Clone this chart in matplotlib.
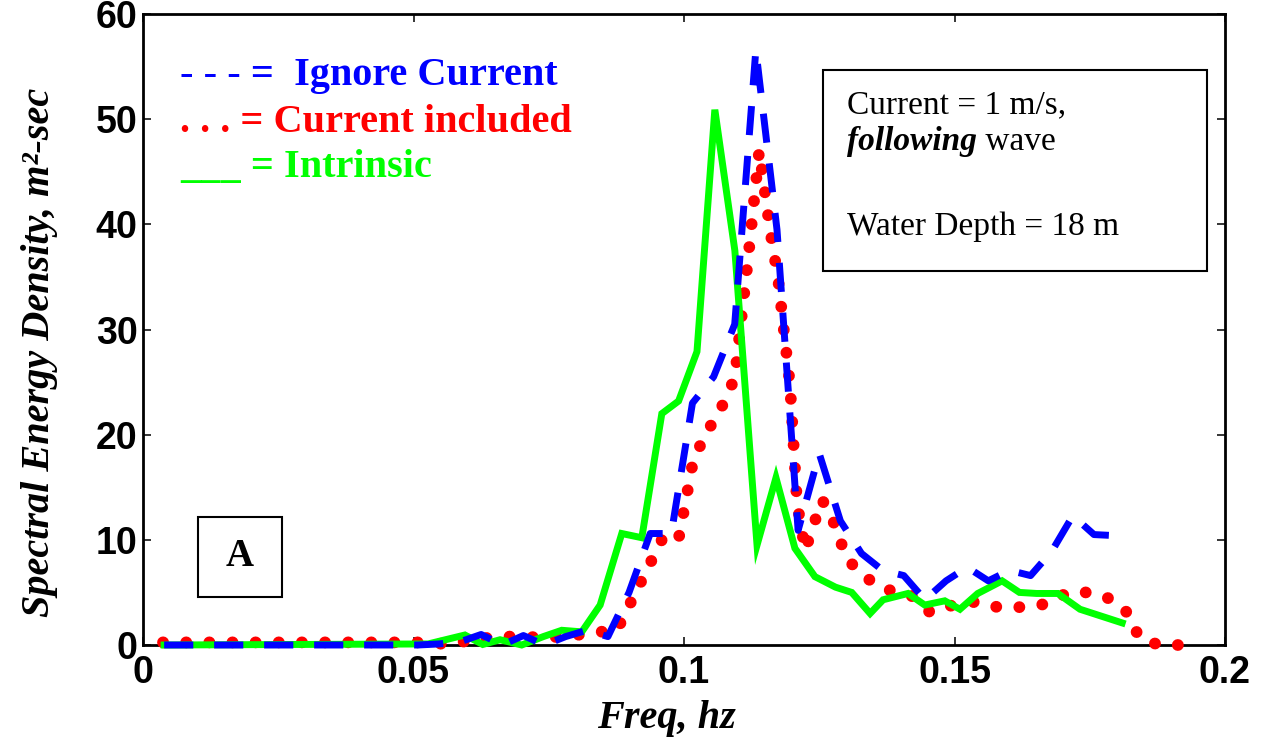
import matplotlib
matplotlib.use('Agg')
import matplotlib.pyplot as plt
from matplotlib.patches import Rectangle

# ignore current: sampled on k/256 hz grid
blue_f = [k / 256 for k in range(1, 47)]
blue_v = [0, 0, 0, 0, 0, 0, 0, 0, 0, 0, 0, 0, 0,
          0.1, 0.3, 1.0, 0.0, 0.9, 0.0, 0.8, 1.4, 0.8, 5.0, 10.6, 10.6,
          23.0, 25.5, 30.5, 56.6, 39.5, 10.9, 18.2, 11.8, 8.7, 7.1, 6.6,
          4.3, 6.1, 7.4, 6.1, 7.1, 6.6, 8.9, 12.3, 10.5, 10.4]

# current included
red_f = [0.0037, 0.0512, 0.0558, 0.0604, 0.0651, 0.0697, 0.0743, 0.0789,
         0.0835, 0.0876, 0.0959, 0.0989, 0.1018, 0.1052, 0.1078, 0.1094,
         0.1118, 0.1139, 0.1159, 0.1174, 0.1196, 0.1209, 0.1224, 0.1255,
         0.1270, 0.1301, 0.1333, 0.1372, 0.1418, 0.1455, 0.1497, 0.1538,
         0.1580, 0.1627, 0.1669, 0.1710, 0.1752, 0.1793, 0.1823, 0.1841,
         0.1878, 0.1926]
red_v = [0.25, 0.25, 0.1, 0.4, 0.8, 0.8, 0.7, 0.85,
         1.2, 1.4, 10.0, 9.8, 17.8, 21.1, 23.4, 25.5,
         36.5, 47.0, 39.5, 34.8, 24.7, 13.5, 9.0, 13.8,
         12.6, 8.2, 6.5, 5.3, 4.8, 3.1, 3.8, 4.1,
         3.6, 3.6, 3.9, 5.0, 5.0, 4.3, 2.9, 0.7,
         0.0, 0.0]

# intrinsic
green_f = [0.0039, 0.0527, 0.0595, 0.0628, 0.0660, 0.0700, 0.0740, 0.0774,
           0.0811, 0.0845, 0.0885, 0.0922, 0.0959, 0.0990, 0.1024, 0.1057,
           0.1094, 0.1135, 0.1170, 0.1205, 0.1242, 0.1280, 0.1310, 0.1344,
           0.1368, 0.1414, 0.1445, 0.1482, 0.1510, 0.1543, 0.1588, 0.1620,
           0.1652, 0.1691, 0.1732, 0.1810]
green_v = [0.0, 0.1, 0.95, 0.05, 0.5, 0.0, 0.8, 1.4,
           1.25, 3.8, 10.6, 10.2, 22.0, 23.2, 27.9, 50.9,
           37.5, 9.5, 15.9, 9.2, 6.5, 5.5, 5.0, 3.0,
           4.3, 4.9, 3.8, 4.2, 3.4, 4.9, 6.1, 5.0,
           4.9, 4.9, 3.4, 2.1]

xticks = [0, 0.05, 0.1, 0.15, 0.2]
xtick_labels = ['0', '0.05', '0.1', '0.15', '0.2']
yticks = [0, 10, 20, 30, 40, 50, 60]

W, H = 1268, 747
fig = plt.figure(figsize=(W / 100, H / 100), dpi=100)
ax = fig.add_axes([143 / W, 1 - 645 / H, (1225 - 143) / W, (645 - 14) / H])

serif = 'Liberation Serif'
sans = 'Liberation Sans'

ax.plot(red_f, red_v, color=(1, 0, 0), lw=8.5, linestyle=(0, (0.01, 1.95)),
        dash_capstyle='round', clip_on=False, zorder=3)
ax.plot(green_f, green_v, color=(0, 1, 0), lw=5, solid_joinstyle='miter',
        clip_on=False, zorder=4)
ax.plot(blue_f, blue_v, color=(0, 0, 1), lw=5, linestyle=(0, (4.2, 3)),
        dash_capstyle='butt', clip_on=False, zorder=5)

ax.set_xlim(0, 0.2)
ax.set_ylim(0, 60)
ax.set_xticks(xticks)
ax.set_xticklabels(xtick_labels)
ax.set_yticks(yticks)
ax.tick_params(direction='in', length=6, width=1.1, top=True, right=True,
               labelsize=27)
ax.tick_params(axis='x', pad=7)
ax.tick_params(axis='y', pad=4)
for lab in ax.get_xticklabels() + ax.get_yticklabels():
    lab.set_fontfamily(sans)
    lab.set_fontweight('bold')
for s in ax.spines.values():
    s.set_linewidth(2)

ax.set_xlabel('Freq, hz', fontsize=29, fontfamily=serif, fontweight='bold',
              fontstyle='italic')
ax.xaxis.set_label_coords(0.484, -0.087)
ax.set_ylabel('Spectral Energy Density, m²-sec', fontsize=29, fontfamily=serif,
              fontweight='bold', fontstyle='italic')
ax.yaxis.set_label_coords(-0.079, 0.464)

# legend written as coloured text
def fx(px):
    return px / W

def fy(py):
    return 1 - py / H

leg = dict(fontsize=29, fontfamily=serif, fontweight='bold', va='baseline', ha='left')
fig.text(fx(180), fy(85), '- - - =  Ignore Current', color=(0, 0, 1), **leg)
fig.text(fx(180), fy(132), '. . . = Current included', color=(1, 0, 0), **leg)
fig.text(fx(180), fy(177), '___ = Intrinsic', color=(0, 1, 0), **leg)

# info box
fig.patches.append(Rectangle((fx(823), fy(271)), (1207 - 823) / W, (271 - 70) / H,
                             transform=fig.transFigure, fill=False, lw=1.5,
                             edgecolor='black', zorder=6))
fig.text(fx(847), fy(113), 'Current = 1 m/s,', fontsize=24, fontfamily=serif,
         va='baseline')
t_fol = fig.text(fx(847), fy(150), 'following', fontsize=24, fontfamily=serif,
                 fontweight='bold', fontstyle='italic', va='baseline')
fig.canvas.draw()
bb = t_fol.get_window_extent()
fig.text(bb.x1 / W, fy(150), ' wave', fontsize=24, fontfamily=serif, va='baseline')
fig.text(fx(847), fy(235), 'Water Depth = 18 m', fontsize=24, fontfamily=serif,
         va='baseline')

# panel letter
fig.patches.append(Rectangle((fx(198), fy(597)), (282 - 198) / W, (597 - 517) / H,
                             transform=fig.transFigure, fill=False, lw=1.5,
                             edgecolor='black', zorder=6))
fig.text(fx(240), fy(557), 'A', fontsize=28, fontfamily=serif, fontweight='bold',
         ha='center', va='center')

fig.savefig('out.png', dpi=100)
